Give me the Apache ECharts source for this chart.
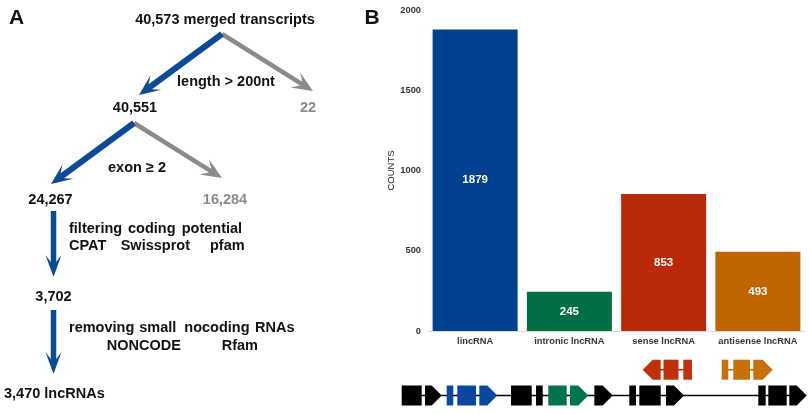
<!DOCTYPE html>
<html>
<head>
<meta charset="utf-8">
<script src="https://cdn.jsdelivr.net/npm/echarts@6/dist/echarts.min.js"></script>
<style>
html,body{margin:0;padding:0;background:#fff;}
#c{width:809px;height:414px;}
</style>
</head>
<body>
<div id="c"></div>
<script>
// ---- data ----
var categories = ['lincRNA', 'intronic lncRNA', 'sense lncRNA', 'antisense lncRNA'];
var counts = [1879, 245, 853, 493];
var yTicks = [0, 500, 1000, 1500, 2000];
var flowCounts = ['40,573', '40,551', '22', '24,267', '16,284', '3,702', '3,470'];

// ---- styles ----
var barColors = ['#00428f', '#006f44', '#bb2a08', '#c06400'];
var FONT = 'Liberation Sans, Arial, sans-serif';
var BLUE = '#0b4a97', GRAY = '#8b8b8b', INK = '#111';

var chart = echarts.init(document.getElementById('c'));

function txt(s, x, y, opt) {
  opt = opt || {};
  return {
    type: 'text', z: 10,
    style: {
      text: s, x: x, y: y,
      fill: opt.fill || INK,
      font: (opt.weight || 'bold') + ' ' + (opt.size || 14.5) + 'px ' + FONT,
      textAlign: opt.align || 'center',
      textVerticalAlign: 'middle'
    }
  };
}

function arrow(x0, y0, x1, y1, w, L, H, n, color) {
  var dx = x1 - x0, dy = y1 - y0, len = Math.sqrt(dx * dx + dy * dy);
  var ux = dx / len, uy = dy / len, vx = -uy, vy = ux;
  function p(a, b) { return [x1 + ux * a + vx * b, y1 + uy * a + vy * b]; }
  var pts = [
    [x0 + vx * w / 2, y0 + vy * w / 2],
    p(-(L - n), w / 2),
    p(-L, H),
    [x1, y1],
    p(-L, -H),
    p(-(L - n), -w / 2),
    [x0 - vx * w / 2, y0 - vy * w / 2]
  ];
  return { type: 'polygon', shape: { points: pts }, style: { fill: color }, z: 5 };
}

function box(x1, x2, yc, h, c) {
  return { type: 'rect', shape: { x: x1, y: yc - h / 2, width: x2 - x1, height: h }, style: { fill: c }, z: 6 };
}
function pentR(x1, x2, yc, h, c) {
  var xm = x2 - h / 2;
  return { type: 'polygon', shape: { points: [[x1, yc - h / 2], [xm, yc - h / 2], [x2, yc], [xm, yc + h / 2], [x1, yc + h / 2]] }, style: { fill: c }, z: 6 };
}
function pentL(x1, x2, yc, h, c) {
  var xm = x1 + h / 2;
  return { type: 'polygon', shape: { points: [[x2, yc - h / 2], [xm, yc - h / 2], [x1, yc], [xm, yc + h / 2], [x2, yc + h / 2]] }, style: { fill: c }, z: 6 };
}
function hline(x1, x2, y, c) {
  return { type: 'line', shape: { x1: x1, y1: y, x2: x2, y2: y }, style: { stroke: c, lineWidth: 1.5 }, z: 4 };
}

var g = [];
// panel labels
g.push(txt('A', 16.5, 18, { size: 21 }));
g.push(txt('B', 372, 18, { size: 21 }));

// flowchart arrows
g.push(arrow(222, 34, 313, 91, 4.5, 21, 9, 7, GRAY));
g.push(arrow(222, 34, 139, 95, 6, 21, 9, 7, BLUE));
g.push(arrow(134, 123, 222, 178, 4.5, 21, 9, 7, GRAY));
g.push(arrow(134, 123, 51, 184, 6, 21, 9, 7, BLUE));
g.push(arrow(53.5, 211, 53.5, 277, 5.5, 22, 8, 7, BLUE));
g.push(arrow(53.5, 310, 53.5, 374, 5.5, 22, 8, 7, BLUE));

// flowchart text
g.push(txt(flowCounts[0] + ' merged transcripts', 225, 20));
g.push(txt('length > 200nt', 226, 82));
g.push(txt(flowCounts[1], 135, 108));
g.push(txt(flowCounts[2], 308, 108, { fill: GRAY }));
g.push(txt('exon \u2265 2', 137, 168));
g.push(txt(flowCounts[3], 50.5, 200));
g.push(txt(flowCounts[4], 225, 200, { fill: GRAY }));
g.push(txt('filtering', 69, 229, { align: 'left' }));
g.push(txt('coding', 128, 229, { align: 'left' }));
g.push(txt('potential', 181.7, 229, { align: 'left' }));
g.push(txt('CPAT', 69, 246, { align: 'left' }));
g.push(txt('Swissprot', 120.7, 246, { align: 'left' }));
g.push(txt('pfam', 210, 246, { align: 'left' }));
g.push(txt(flowCounts[5], 53.5, 297));
g.push(txt('removing', 69, 328, { align: 'left' }));
g.push(txt('small', 139.3, 328, { align: 'left' }));
g.push(txt('nocoding', 184.3, 328, { align: 'left' }));
g.push(txt('RNAs', 255, 328, { align: 'left' }));
g.push(txt('NONCODE', 106.7, 346, { align: 'left' }));
g.push(txt('Rfam', 221.7, 346, { align: 'left' }));
g.push(txt(flowCounts[6] + ' lncRNAs', 4, 394, { align: 'left' }));

// gene diagram
var YM = 395.5, YU = 369.7, H = 20;
var K = '#000', GB = '#0a47a0', GG = '#00744a', GR = '#c0300a', GO = '#c8700a';
g.push(hline(402, 800, YM, K));
g.push(box(401.7, 421.7, YM, H, K));
g.push(pentR(425, 441.7, YM, H, K));
g.push(box(446.7, 453.3, YM, H, GB));
g.push(box(457.3, 476, YM, H, GB));
g.push(pentR(479.3, 497.3, YM, H, GB));
g.push(box(511, 531.7, YM, H, K));
g.push(box(536, 542.7, YM, H, K));
g.push(box(548.3, 566.7, YM, H, GG));
g.push(pentR(570, 588.3, YM, H, GG));
g.push(pentR(594.3, 612.7, YM, H, K));
g.push(box(629.3, 636, YM, H, K));
g.push(box(639.3, 660.7, YM, H, K));
g.push(pentR(666, 684, YM, H, K));
g.push(box(758.3, 765.7, YM, H, K));
g.push(box(768.3, 786.7, YM, H, K));
g.push(pentR(789.3, 806.7, YM, H, K));
// upper row
g.push(hline(645, 690, YU, GR));
g.push(pentL(642.7, 660.7, YU, H, GR));
g.push(box(663.5, 678.5, YU, H, GR));
g.push(box(683.3, 692, YU, H, GR));
g.push(hline(724, 770, YU, GO));
g.push(box(721.7, 728.3, YU, H, GO));
g.push(box(733.3, 750, YU, H, GO));
g.push(pentR(753.3, 772.7, YU, H, GO));

chart.setOption({
  animation: false,
  backgroundColor: '#fff',
  grid: { left: 428, right: 4, top: 10, bottom: 83, containLabel: false },
  xAxis: {
    type: 'category',
    data: categories,
    axisLine: { lineStyle: { color: '#d9d9d9', width: 1 } },
    axisTick: { show: false },
    axisLabel: { color: '#333', fontFamily: FONT, fontWeight: 'bold', fontSize: 9.3, margin: 6, interval: 0 }
  },
  yAxis: {
    type: 'value',
    min: yTicks[0], max: yTicks[yTicks.length - 1], interval: yTicks[1] - yTicks[0],
    name: 'COUNTS', nameLocation: 'middle', nameRotate: 90, nameGap: 31,
    nameTextStyle: { color: '#222', fontFamily: FONT, fontSize: 9.5 },
    axisLine: { show: false },
    axisTick: { show: false },
    splitLine: { show: false },
    axisLabel: { color: '#333', fontFamily: FONT, fontWeight: 'bold', fontSize: 9.3, margin: 7,
      formatter: function (v) { return String(v); } }
  },
  series: [{
    type: 'bar',
    barWidth: 85,
    data: counts.map(function (v, i) { return { value: v, itemStyle: { color: barColors[i] } }; }),
    label: { show: true, position: 'inside', color: '#fff', fontFamily: FONT, fontWeight: 'bold', fontSize: 11.5 }
  }],
  graphic: g
});
</script>
</body>
</html>
